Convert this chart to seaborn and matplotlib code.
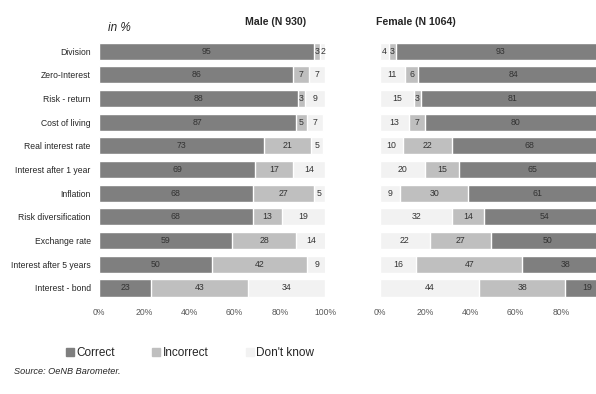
import numpy as np
import pandas as pd
import matplotlib.pyplot as plt
import seaborn as sns
from matplotlib.patches import Patch

sns.set_style("white")
plt.rcParams['font.family'] = ['Liberation Sans', 'DejaVu Sans']

# data (in %)
categories = ["Division", "Zero-Interest", "Risk - return", "Cost of living",
              "Real interest rate", "Interest after 1 year", "Inflation",
              "Risk diversification", "Exchange rate", "Interest after 5 years",
              "Interest - bond"]
male_correct = [95, 86, 88, 87, 73, 69, 68, 68, 59, 50, 23]
male_incorrect = [3, 7, 3, 5, 21, 17, 27, 13, 28, 42, 43]
male_dontknow = [2, 7, 9, 7, 5, 14, 5, 19, 14, 9, 34]
female_correct = [93, 84, 81, 80, 68, 65, 61, 54, 50, 38, 19]
female_incorrect = [3, 6, 3, 7, 22, 15, 30, 14, 27, 47, 38]
female_dontknow = [4, 11, 15, 13, 10, 20, 9, 32, 22, 16, 44]
male_ticks = [0, 20, 40, 60, 80, 100]
female_ticks = [0, 20, 40, 60, 80]  # 100% falls outside the picture

c_correct = "#7f7f7f"
c_incorrect = "#bfbfbf"
c_dontknow = "#f2f2f2"
txt = "#333333"

fig = plt.figure(figsize=(5.96, 3.94), dpi=100)
ax_m = fig.add_axes([0.1661, 0.239, 0.3792, 0.661])
ax_f = fig.add_axes([0.6376, 0.239, 0.3792, 0.661])


def stacked(ax, segs, colors):
    # draw cumulative totals from the largest down so each segment shows
    cum = np.cumsum(np.array(segs), axis=0)
    for k in range(len(segs) - 1, -1, -1):
        sns.barplot(x=cum[k], y=categories, color=colors[k], saturation=1,
                    width=0.72, orient="h", ax=ax)
    for k in range(len(segs)):
        start = cum[k] - np.array(segs[k])
        for i, v in enumerate(segs[k]):
            ax.text(start[i] + v / 2, i, str(v), ha="center", va="center",
                    fontsize=6.3, color=txt)


stacked(ax_m, [male_correct, male_incorrect, male_dontknow],
        [c_correct, c_incorrect, c_dontknow])
stacked(ax_f, [female_dontknow, female_incorrect, female_correct],
        [c_dontknow, c_incorrect, c_correct])

for ax, ticks in ((ax_m, male_ticks), (ax_f, female_ticks)):
    ax.set_xlim(0, 100)
    ax.set_xticks(ticks)
    ax.set_xticklabels([f"{t}%" for t in ticks])
    ax.tick_params(axis="x", labelsize=6.2, labelcolor="#595959", length=0, pad=6)
    ax.set_xlabel("")
    ax.set_ylabel("")
    sns.despine(ax=ax, left=True, bottom=True)

ax_m.tick_params(axis="y", labelsize=6.2, labelcolor="#262626", length=0, pad=6)
ax_f.set_yticks([])

fig.text(276 / 596, 1 - 22 / 394, "Male (N 930)", ha="center", va="center",
         fontsize=7.6, fontweight="bold")
fig.text(416 / 596, 1 - 22 / 394, "Female (N 1064)", ha="center", va="center",
         fontsize=7.6, fontweight="bold")
fig.text(108 / 596, 1 - 28 / 394, "in %", ha="left", va="center",
         fontsize=8.5, style="italic")

handles = [Patch(color=c_correct, label="Correct"),
           Patch(color=c_incorrect, label="Incorrect"),
           Patch(color=c_dontknow, label="Don't know")]
fig.legend(handles=handles, loc="center", bbox_to_anchor=(190 / 596, 1 - 353 / 394),
           ncol=3, frameon=False, fontsize=8.5, handlelength=0.65, handleheight=0.65,
           handletextpad=0.2, columnspacing=3.2)

fig.text(14 / 596, 1 - 372 / 394, "Source: OeNB Barometer.", ha="left", va="center",
         fontsize=6.6, style="italic")

fig.savefig("out.png", dpi=100)
